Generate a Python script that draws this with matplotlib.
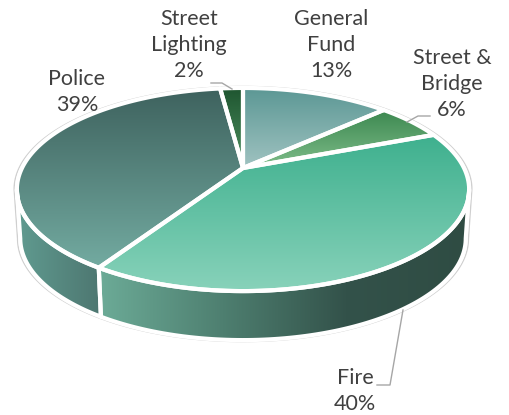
import numpy as np
import matplotlib
matplotlib.use("Agg")
import matplotlib.pyplot as plt
from matplotlib.colors import LinearSegmentedColormap
from matplotlib.patches import PathPatch
from matplotlib.path import Path

# Revenue share by fund, clockwise from twelve o'clock
categories = ["General\nFund", "Street &\nBridge", "Fire", "Police", "Street\nLighting"]
shares = [13, 6, 40, 39, 2]
percent_labels = ["13%", "6%", "40%", "39%", "2%"]

# Top face gradients (far edge, near edge) and side wall gradients (left, right)
top_colors = [("#5b9794", "#a0c3c1"), ("#3c8850", "#7fbd8a"), ("#3eb08e", "#88d2ba"),
              ("#3e625e", "#73aba1"), ("#1e5530", "#4f9160")]
side_colors = {"Fire": ["#6cab97", "#4e7f70", "#33524a", "#2f4c43"],
               "Police": ["#609b90", "#4d7670"]}

W, H = 509, 415
CX, CY = 243.0, 168.0
DEPTH = 49.0
TILT = 0.212
RX, RY = 221.0, 97.0
BORDER = "#ffffff"
OUTLINE = "#cfcfcf"
INK = "#404040"

fig = plt.figure(figsize=(W / 100, H / 100), dpi=100)
ax = fig.add_axes([0, 0, 1, 1])
ax.set_axis_off()
plt.rcParams["font.family"] = ["Lato", "DejaVu Sans"]


def project(theta_deg, offset=0.0, scale=1.0):
    """Map clockwise pie angles onto the tilted disc, with perspective."""
    t = np.radians(np.asarray(theta_deg, dtype=float))
    u, v = np.sin(t), -np.cos(t)
    d = 1 - TILT * v
    return np.column_stack((CX + scale * RX * u / d, CY + offset + RY * v / d))


def gradient_fill(verts, colors, horizontal=False):
    """Fill a closed polygon with a linear colour ramp clipped to its outline."""
    cmap = LinearSegmentedColormap.from_list("ramp", colors)
    x0, y0 = verts.min(axis=0)
    x1, y1 = verts.max(axis=0)
    ramp = np.linspace(0, 1, 256)
    img = ramp[None, :] if horizontal else ramp[:, None]
    path = Path(np.vstack((verts, verts[:1])), closed=True)
    im = ax.imshow(img, cmap=cmap, extent=(x0, x1, y1, y0), origin="upper",
                   aspect="auto", interpolation="bilinear", zorder=2)
    patch = PathPatch(path, transform=ax.transData, fc="none", ec="none")
    ax.add_patch(patch)
    im.set_clip_path(patch)
    ax.add_patch(PathPatch(path, fc="none", ec=BORDER, lw=3.0, joinstyle="round", zorder=3))


edges = np.cumsum([0] + shares) * 360.0 / sum(shares)
right_tangent = 90 + np.degrees(np.arcsin(TILT))
left_tangent = 360 - right_tangent
bottom_scale = 0.985

# Thin outer contour around the whole body
rim = project(np.linspace(left_tangent, left_tangent + 360 - (left_tangent - right_tangent), 240))
lower = project(np.linspace(right_tangent, left_tangent, 160), DEPTH, bottom_scale)
contour = np.vstack((rim, lower))
centre = np.array([CX, CY + 22 + DEPTH / 2])
contour = centre + (contour - centre) * np.array([1.012, 1.012])
ax.add_patch(PathPatch(Path(np.vstack((contour, contour[:1])), closed=True),
                       fc="white", ec=OUTLINE, lw=1.0, zorder=1))

# Side walls: only the two slices on the near half show one
for i, name in enumerate(categories):
    if name not in side_colors:
        continue
    a = max(edges[i], right_tangent)
    b = min(edges[i + 1], left_tangent)
    th = np.linspace(a, b, 100)
    wall = np.vstack((project(th), project(th[::-1], DEPTH, bottom_scale)))
    gradient_fill(wall, side_colors[name], horizontal=True)

# Top faces
for i in range(len(shares)):
    th = np.linspace(edges[i], edges[i + 1], 100)
    face = np.vstack(([[CX, CY]], project(th)))
    gradient_fill(face, top_colors[i])

# Data labels and their leader lines
label_pos = [(331, 45), (452, 84), (355, 391), (77, 92), (189, 45)]
for name, pct, (lx, ly) in zip(categories, percent_labels, label_pos):
    ax.text(lx, ly, f"{name}\n{pct}", ha="center", va="center", fontsize=15.5,
            color=INK, linespacing=1.38, zorder=6)

leaders = [([211, 222, 232], [83, 83, 89]),
           ([430, 418, 407], [116, 116, 122]),
           ([403, 390, 377], [310, 385, 385])]
for xs, ys in leaders:
    ax.plot(xs, ys, color="#a6a6a6", lw=1.0, zorder=5)

ax.set_xlim(0, W)
ax.set_ylim(H, 0)
fig.savefig("out.png", dpi=100, facecolor="white")
